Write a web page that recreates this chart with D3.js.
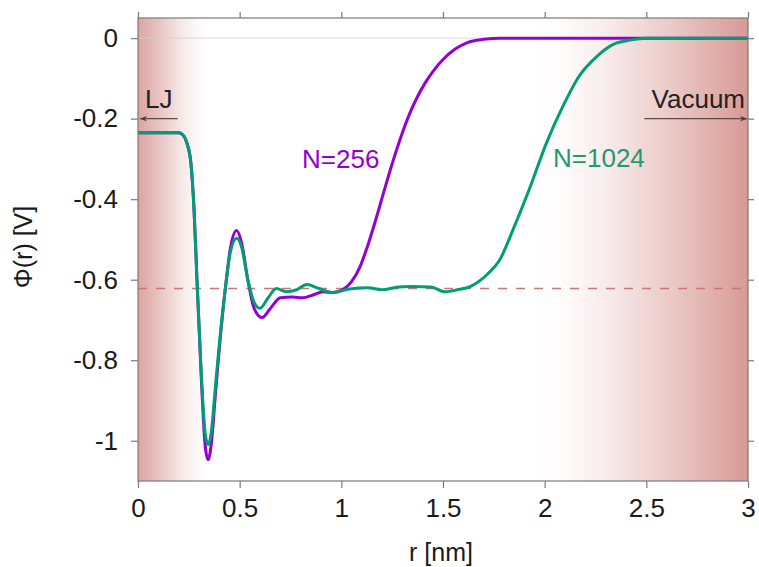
<!DOCTYPE html>
<html>
<head>
<meta charset="utf-8">
<script src="https://cdn.jsdelivr.net/npm/d3@7"></script>
<style>
  html, body { margin: 0; padding: 0; background: #fff; }
  svg { display: block; font-family: "Liberation Sans", Arial, Helvetica, sans-serif; }
</style>
</head>
<body>
<svg id="chart" width="759" height="567"></svg>
<script>
// ---------- data ----------
const xTicks = [0, 0.5, 1, 1.5, 2, 2.5, 3];
const yTicks = [0, -0.2, -0.4, -0.6, -0.8, -1];

const rN256 = [0, 0.10, 0.20, 0.22, 0.24, 0.26, 0.275, 0.29, 0.31, 0.33, 0.345, 0.36, 0.38, 0.40, 0.43, 0.455, 0.485, 0.51, 0.54, 0.57, 0.61, 0.65, 0.70, 0.76, 0.81, 0.86, 0.91, 0.96, 1.01, 1.05, 1.09, 1.13, 1.17, 1.21, 1.25, 1.29, 1.33, 1.37, 1.41, 1.45, 1.50, 1.56, 1.62, 1.70, 1.78, 2.2, 2.6, 3.0];
const phiN256 = [-0.235, -0.235, -0.235, -0.24, -0.26, -0.31, -0.42, -0.60, -0.83, -1.01, -1.047, -1.01, -0.89, -0.77, -0.62, -0.52, -0.478, -0.51, -0.60, -0.67, -0.694, -0.672, -0.645, -0.643, -0.645, -0.638, -0.630, -0.632, -0.624, -0.605, -0.570, -0.515, -0.450, -0.380, -0.312, -0.250, -0.195, -0.150, -0.113, -0.083, -0.053, -0.027, -0.011, -0.003, 0, 0, 0, 0];

const rN1024 = [0, 0.10, 0.20, 0.22, 0.24, 0.26, 0.275, 0.29, 0.31, 0.33, 0.345, 0.36, 0.38, 0.40, 0.43, 0.455, 0.485, 0.51, 0.54, 0.57, 0.60, 0.64, 0.68, 0.73, 0.78, 0.83, 0.89, 0.96, 1.04, 1.13, 1.20, 1.27, 1.34, 1.44, 1.51, 1.57, 1.633, 1.717, 1.78, 1.845, 1.93, 2.01, 2.09, 2.17, 2.26, 2.34, 2.42, 2.50, 2.6, 2.8, 3.0];
const phiN1024 = [-0.235, -0.235, -0.235, -0.24, -0.26, -0.31, -0.42, -0.60, -0.82, -0.98, -1.01, -0.98, -0.87, -0.76, -0.62, -0.53, -0.497, -0.52, -0.60, -0.655, -0.671, -0.645, -0.622, -0.630, -0.625, -0.612, -0.622, -0.632, -0.623, -0.620, -0.625, -0.619, -0.617, -0.618, -0.630, -0.625, -0.617, -0.587, -0.550, -0.475, -0.368, -0.259, -0.169, -0.094, -0.044, -0.015, -0.005, 0, 0, 0, 0];

const bulkPhi = -0.622;          // dashed reference level
const ljShade = [0, 0.35];       // r range of left shading
const vacShade = [1.92, 3.0];    // r range of right shading
const ljArrow = [0.195, 0.0];    // r from -> to
const vacArrow = [2.49, 3.0];
const arrowPhi = -0.2;

// ---------- layout ----------
const svg = d3.select("#chart");
const L = 138, R = 748, T = 18, B = 481;
const x = d3.scaleLinear().domain([0, 3]).range([L, R]);
const y = d3.scaleLinear().domain([0.05, -1.1]).range([T, B]);

const defs = svg.append("defs");
const shadeColor = "#d6948f";
const gl = defs.append("linearGradient").attr("id", "gl")
  .attr("gradientUnits", "userSpaceOnUse")
  .attr("x1", x(ljShade[0])).attr("x2", x(ljShade[1])).attr("y1", 0).attr("y2", 0);
[[0, 0.85], [0.3, 0.55], [0.6, 0.22], [0.82, 0.06], [1, 0]].forEach(s =>
  gl.append("stop").attr("offset", s[0]).attr("stop-color", shadeColor).attr("stop-opacity", s[1]));
const gr = defs.append("linearGradient").attr("id", "gr")
  .attr("gradientUnits", "userSpaceOnUse")
  .attr("x1", x(vacShade[0])).attr("x2", x(vacShade[1])).attr("y1", 0).attr("y2", 0);
[[0, 0], [0.15, 0.03], [0.35, 0.17], [0.65, 0.5], [1, 0.95]].forEach(s =>
  gr.append("stop").attr("offset", s[0]).attr("stop-color", shadeColor).attr("stop-opacity", s[1]));

defs.append("marker").attr("id", "ah").attr("viewBox", "0 0 10 10")
  .attr("refX", 10).attr("refY", 5).attr("markerWidth", 11).attr("markerHeight", 7)
  .attr("markerUnits", "userSpaceOnUse").attr("orient", "auto")
  .append("path").attr("d", "M0,1 L10,5 L0,9 L3,5 Z").attr("fill", "#4f3c3c");

svg.append("rect").attr("x", x(ljShade[0])).attr("y", T)
  .attr("width", x(ljShade[1]) - x(ljShade[0])).attr("height", B - T).attr("fill", "url(#gl)");
svg.append("rect").attr("x", x(vacShade[0])).attr("y", T)
  .attr("width", x(vacShade[1]) - x(vacShade[0])).attr("height", B - T).attr("fill", "url(#gr)");

// zero line
svg.append("line").attr("x1", L).attr("x2", R).attr("y1", y(0)).attr("y2", y(0))
  .attr("stroke", "#d0d0d0").attr("stroke-width", 0.8);

// dashed bulk level
svg.append("line").attr("x1", L).attr("x2", R).attr("y1", y(bulkPhi)).attr("y2", y(bulkPhi))
  .attr("stroke", "#cc7676").attr("stroke-width", 1.5).attr("stroke-dasharray", "9,9");

const line = d3.line().x(d => x(d[0])).y(d => y(d[1])).curve(d3.curveMonotoneX);
svg.append("path").datum(d3.zip(rN256, phiN256)).attr("d", line)
  .attr("fill", "none").attr("stroke", "#9400d3").attr("stroke-width", 3);
svg.append("path").datum(d3.zip(rN1024, phiN1024)).attr("d", line)
  .attr("fill", "none").attr("stroke", "#009e73").attr("stroke-width", 3);

// frame
svg.append("rect").attr("x", L).attr("y", T).attr("width", R - L).attr("height", B - T)
  .attr("fill", "none").attr("stroke", "#7a7a7a").attr("stroke-width", 1.2);

function styleAxis(g, labels) {
  g.select(".domain").remove();
  g.selectAll(".tick line").attr("stroke", "#7a7a7a").attr("stroke-width", 1.2);
  g.selectAll(".tick text").attr("fill", "#1a1a1a").style("font-size", "26px");
  if (!labels) g.selectAll(".tick text").remove();
}
const fmt = d => String(d);
svg.append("g").attr("transform", `translate(0,${B})`)
  .call(d3.axisBottom(x).tickValues(xTicks).tickFormat(fmt).tickSize(7).tickPadding(11))
  .call(g => styleAxis(g, true));
svg.append("g").attr("transform", `translate(0,${T})`)
  .call(d3.axisTop(x).tickValues(xTicks).tickSize(6))
  .call(g => styleAxis(g, false));
svg.append("g").attr("transform", `translate(${L},0)`)
  .call(d3.axisLeft(y).tickValues(yTicks).tickFormat(fmt).tickSize(7).tickPadding(13))
  .call(g => styleAxis(g, true));
svg.append("g").attr("transform", `translate(${R},0)`)
  .call(d3.axisRight(y).tickValues(yTicks).tickSize(6))
  .call(g => styleAxis(g, false));

// arrows
svg.append("line").attr("x1", x(ljArrow[0])).attr("x2", x(ljArrow[1]) + 2)
  .attr("y1", y(arrowPhi)).attr("y2", y(arrowPhi))
  .attr("stroke", "#5f4a4a").attr("stroke-width", 1.3).attr("marker-end", "url(#ah)");
svg.append("line").attr("x1", x(vacArrow[0])).attr("x2", x(vacArrow[1]) - 1)
  .attr("y1", y(arrowPhi)).attr("y2", y(arrowPhi))
  .attr("stroke", "#5f4a4a").attr("stroke-width", 1.3).attr("marker-end", "url(#ah)");

// annotations
svg.append("text").attr("x", 145).attr("y", 108).text("LJ")
  .attr("fill", "#222").style("font-size", "26px");
svg.append("text").attr("x", 745).attr("y", 108).attr("text-anchor", "end").text("Vacuum")
  .attr("fill", "#222").style("font-size", "26px");
svg.append("text").attr("x", 302).attr("y", 168).text("N=256")
  .attr("fill", "#9400d3").style("font-size", "26px");
svg.append("text").attr("x", 553).attr("y", 167).text("N=1024")
  .attr("fill", "#1f9a72").style("font-size", "26px");

// axis titles
svg.append("text").attr("x", 441).attr("y", 561).attr("text-anchor", "middle")
  .text("r [nm]").attr("fill", "#1a1a1a").style("font-size", "25px");
svg.append("text").attr("transform", "translate(32,247) rotate(-90)").attr("text-anchor", "middle")
  .text("Φ(r) [V]").attr("fill", "#1a1a1a").style("font-size", "25px");
</script>
</body>
</html>
